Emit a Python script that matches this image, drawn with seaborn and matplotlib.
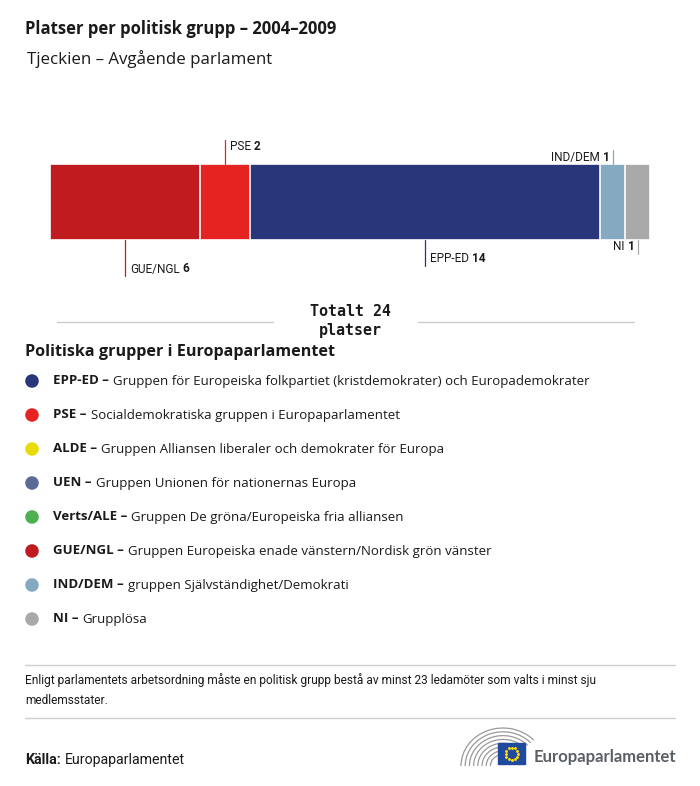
import numpy as np
import pandas as pd
import seaborn as sns
import matplotlib.pyplot as plt
from matplotlib import transforms
from matplotlib.patches import Rectangle, Arc

# data
bar_groups = ["GUE/NGL", "PSE", "EPP-ED", "IND/DEM", "NI"]
bar_seats = [6, 2, 14, 1, 1]
bar_colors = ["#c01b1f", "#e52421", "#27377a", "#85a9c1", "#a9a9a9"]

legend_codes = ["EPP-ED", "PSE", "ALDE", "UEN", "Verts/ALE", "GUE/NGL", "IND/DEM", "NI"]
legend_names = ["Gruppen för Europeiska folkpartiet (kristdemokrater) och Europademokrater",
                "Socialdemokratiska gruppen i Europaparlamentet",
                "Gruppen Alliansen liberaler och demokrater för Europa",
                "Gruppen Unionen för nationernas Europa",
                "Gruppen De gröna/Europeiska fria alliansen",
                "Gruppen Europeiska enade vänstern/Nordisk grön vänster",
                "gruppen Självständighet/Demokrati",
                "Grupplösa"]
legend_colors = ["#27377a", "#e52421", "#e8dc0c", "#5a6b98", "#4caf50", "#c01b1f", "#85a9c1", "#a9a9a9"]

title = "Platser per politisk grupp – 2004–2009"
subtitle = "Tjeckien – Avgående parlament"
total_text = "Totalt 24\nplatser"
note = "Enligt parlamentets arbetsordning måste en politisk grupp bestå av minst 23 ledamöter som valts i minst sju\nmedlemsstater."

sns.set_theme(style="white")
plt.rcParams["font.family"] = ["Open Sans", "DejaVu Sans"]
narrow = ["Liberation Sans Narrow", "Roboto", "DejaVu Sans"]
dark = "#1a1a1a"

fig = plt.figure(figsize=(7, 7.86), dpi=100)
bg = fig.add_axes([0, 0, 1, 1])
bg.set_xlim(0, 700)
bg.set_ylim(786, 0)
bg.axis("off")

# titles
bg.text(25, 29, title, fontsize=12, fontweight="bold", va="center", color=dark)
bg.text(27, 59, subtitle, fontsize=12.2, va="center", color=dark)

# stacked bar, drawn as overlapping cumulative bars
ax = fig.add_axes([50 / 700, 1 - 240 / 786, 600 / 700, 76 / 786])
cum = np.cumsum(bar_seats)
for i in reversed(range(len(bar_groups))):
    sns.barplot(x=[cum[i]], y=["Tjeckien"], color=bar_colors[i], width=1, saturation=1,
                edgecolor="white", linewidth=1.2, ax=ax, orient="h")
ax.set_xlim(0, cum[-1])
ax.set_ylim(0.5, -0.5)
ax.axis("off")

# label layout: (above?, line length px, text y offset px, right-aligned?)
label_layout = {
    "GUE/NGL": (False, 36, 29, False),
    "PSE": (True, 24, 18, False),
    "EPP-ED": (False, 26, 18, False),
    "IND/DEM": (True, 14, 7, True),
    "NI": (False, 14, 6, True),
}
trans = transforms.blended_transform_factory(ax.transData, ax.transAxes)
h = 76.0
for i, g in enumerate(bar_groups):
    mid = cum[i] - bar_seats[i] / 2
    above, ln, ty, right = label_layout[g]
    if above:
        y0, y1, yt = 1, 1 + ln / h, 1 + ty / h
    else:
        y0, y1, yt = 0, -ln / h, -ty / h
    ax.plot([mid, mid], [y0, y1], color=bar_colors[i], lw=0.9, transform=trans, clip_on=False)
    if right:
        tb = ax.text(mid, yt, str(bar_seats[i]), ha="right", va="center",
                     transform=transforms.offset_copy(trans, fig=fig, x=-3, y=0, units="dots"),
                     fontsize=8.5, fontweight="bold", family=narrow, color=dark)
        ax.annotate(g, xy=(0, 0), xycoords=tb, xytext=(-2, 0), textcoords="offset points",
                    ha="right", va="bottom", fontsize=8.5, family=narrow, color=dark)
    else:
        tr = ax.text(mid, yt, g, transform=transforms.offset_copy(trans, fig=fig, x=5, y=0, units="dots"),
                     ha="left", va="center", fontsize=8.5, family=narrow, color=dark)
        ax.annotate(str(bar_seats[i]), xy=(1, 0), xycoords=tr, xytext=(2, 0), textcoords="offset points",
                    ha="left", va="bottom", fontsize=8.5, fontweight="bold", family=narrow, color=dark)

# total
bg.plot([57, 273], [322, 322], color="#cccccc", lw=1)
bg.plot([418, 634], [322, 322], color="#cccccc", lw=1)
bg.text(350, 321, total_text, ha="center", va="center", fontsize=10.8, fontweight="bold",
        family="DejaVu Sans Mono", color=dark, linespacing=1.25)

# legend
bg.text(25, 352, "Politiska grupper i Europaparlamentet", fontsize=11.6, fontweight="bold",
        va="center", color=dark)
leg = pd.DataFrame({"code": legend_codes, "name": legend_names,
                    "y": 381 + 34 * np.arange(len(legend_codes))})
leg["x"] = 32
sns.scatterplot(data=leg, x="x", y="y", hue="code", palette=dict(zip(legend_codes, legend_colors)),
                s=95, linewidth=0, legend=False, ax=bg)
bg.set_xlim(0, 700)
bg.set_ylim(786, 0)
bg.axis("off")
for _, r in leg.iterrows():
    t1 = bg.text(53, r["y"], r["code"] + " –", fontsize=9.5, fontweight="bold", va="center", color=dark)
    bg.annotate(r["name"], xy=(1, 0), xycoords=t1, xytext=(3, 0), textcoords="offset points",
                ha="left", va="bottom", fontsize=9.5, color=dark)

# footer
bg.plot([25, 675], [665, 665], color="#d0d0d0", lw=1)
bg.text(25, 690, note, fontsize=8.55, family=narrow, va="center", color=dark, linespacing=1.75)
bg.plot([25, 675], [718, 718], color="#d0d0d0", lw=1)
k = bg.text(25, 760, "Källa:", fontsize=10.2, fontweight="bold", family=narrow, va="center", color=dark)
bg.annotate("Europaparlamentet", xy=(1, 0), xycoords=k, xytext=(3, 0), textcoords="offset points",
            ha="left", va="bottom", fontsize=10.2, family=narrow, color=dark)

# logo
for rr in np.arange(12, 42, 4):
    bg.add_patch(Arc((503, 766), 2 * rr * 1.05, 2 * rr * 0.95, theta1=180, theta2=320,
                     color="#9a9a9a", lw=0.9))
bg.add_patch(Rectangle((498, 743), 27, 21, color="#1f4aa0", zorder=3))
ang = np.linspace(0, 2 * np.pi, 12, endpoint=False)
bg.scatter(511.5 + 6 * np.cos(ang), 753.5 + 6 * np.sin(ang), s=1.2, color="#ffdd00", zorder=4)
bg.text(534, 757, "Europaparlamentet", fontsize=12, fontweight="bold", family=["Lato", "DejaVu Sans"],
        va="center", color="#5a5f66")

fig.savefig("out.png", dpi=100, facecolor="white")
